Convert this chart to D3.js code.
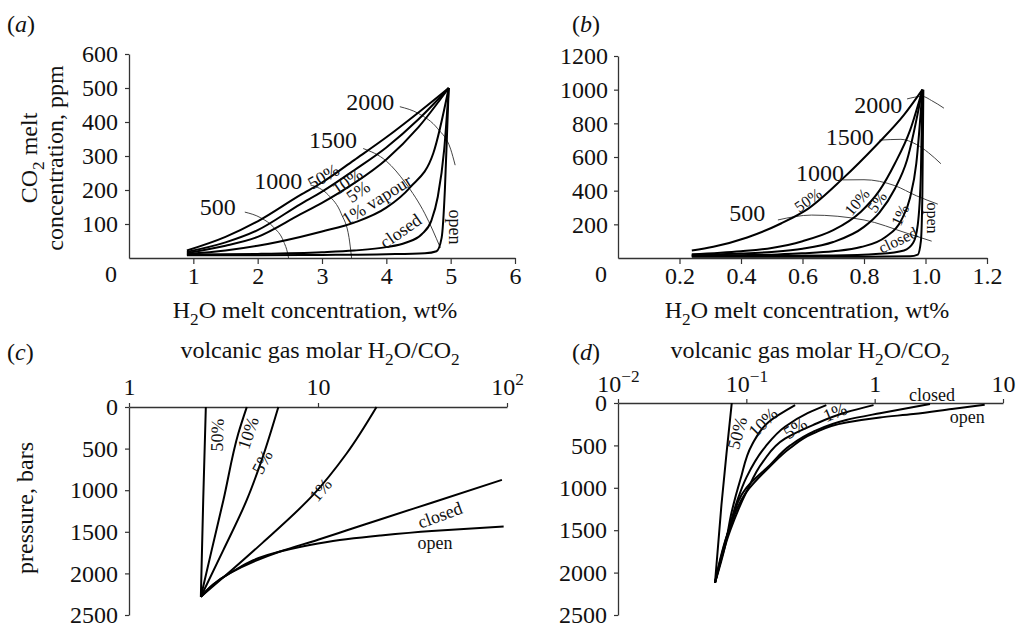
<!DOCTYPE html>
<html>
<head>
<meta charset="utf-8">
<script src="https://cdn.jsdelivr.net/npm/d3@7/dist/d3.min.js"></script>
<style>
body { margin: 0; background: #fff; }
svg text { font-family: "Liberation Serif", "Times New Roman", serif; fill: #111; }
</style>
</head>
<body>
<svg id="chart" width="1021" height="625"></svg>
<script>
// ---------- panel (a): CO2 vs H2O melt, 5 wt% start ----------
const aXTicks = [1, 2, 3, 4, 5, 6];
const aYTicks = [100, 200, 300, 400, 500, 600];
const aCurves = [
  { name: "50%", pts: [[0.9,22],[1.5,62],[2,108],[2.66,185],[3,222],[3.5,288],[4,355],[4.5,428],[4.97,500]] },
  { name: "10%", pts: [[0.9,18],[1.5,46],[2,82],[2.66,158],[3,195],[3.5,258],[4,325],[4.5,408],[4.97,500]] },
  { name: "5%", pts: [[0.9,15],[1.5,36],[2,62],[2.66,128],[3,162],[3.5,220],[4,290],[4.5,385],[4.97,500]] },
  { name: "1%", pts: [[0.9,12],[1.5,22],[2,36],[2.66,62],[3,78],[3.5,104],[4,148],[4.37,208],[4.73,308],[4.97,500]] },
  { name: "closed", pts: [[0.9,10],[2,12],[3,17],[3.5,22],[4,32],[4.3,45],[4.55,70],[4.7,110],[4.8,180],[4.9,320],[4.97,500]] },
  { name: "open", pts: [[0.9,8],[2,8],[3,9],[4,11],[4.6,14],[4.78,20],[4.86,60],[4.91,200],[4.95,400],[4.97,500]] }
];
const aIsobars = [
  { p: "500", pts: [[1.8,135],[2.05,118],[2.25,90],[2.4,50],[2.47,10],[2.48,0]] },
  { p: "1000", pts: [[2.82,215],[3.1,185],[3.3,130],[3.42,60],[3.46,0]] },
  { p: "1500", pts: [[3.64,322],[4.0,285],[4.3,220],[4.6,130],[4.84,30]] },
  { p: "2000", pts: [[4.21,445],[4.5,425],[4.8,380],[5.0,320],[5.07,273]] }
];
const aIsobarLabels = [["500",1.38,150],["1000",2.32,229],["1500",3.17,347],["2000",3.75,459]];
const aCurveLabels = [["50%",3.02,240,-30],["10%",3.39,226,-35],["5%",3.56,196,-35],
  ["1% vapour",3.85,172,-32],["closed",4.22,80,-35],["open",5.07,91,90]];

// ---------- panel (b): CO2 vs H2O melt, 1 wt% start ----------
const bXTicks = [0.2, 0.4, 0.6, 0.8, 1.0, 1.2];
const bYTicks = [200, 400, 600, 800, 1000, 1200];
const bCurves = [
  { name: "50%", pts: [[0.24,45],[0.31,67],[0.42,122],[0.53,205],[0.62,295],[0.73,470],[0.84,670],[0.93,850],[0.99,1000]] },
  { name: "10%", pts: [[0.24,22],[0.4,40],[0.5,60],[0.6,100],[0.7,165],[0.79,275],[0.85,400],[0.9,560],[0.95,760],[0.99,1000]] },
  { name: "5%", pts: [[0.24,18],[0.4,26],[0.5,36],[0.6,55],[0.7,95],[0.8,185],[0.85,270],[0.9,410],[0.94,582],[0.99,1000]] },
  { name: "1%", pts: [[0.24,15],[0.5,20],[0.6,28],[0.7,40],[0.79,65],[0.87,125],[0.92,220],[0.95,360],[0.97,560],[0.99,1000]] },
  { name: "closed", pts: [[0.24,12],[0.7,15],[0.85,25],[0.93,45],[0.96,90],[0.975,200],[0.985,500],[0.99,1000]] },
  { name: "open", pts: [[0.24,8],[0.8,8],[0.95,10],[0.975,20],[0.985,100],[0.99,400],[0.993,1000]] }
];
const bIsobars = [
  { p: "500", pts: [[0.52,226],[0.63,255],[0.8,226],[0.94,147],[1.02,100]] },
  { p: "1000", pts: [[0.73,464],[0.8,465],[0.9,430],[0.97,370],[1.04,320]] },
  { p: "1500", pts: [[0.85,700],[0.92,705],[0.97,675],[1.01,625],[1.05,560]] },
  { p: "2000", pts: [[0.94,945],[0.99,960],[1.02,935],[1.06,890]] }
];
const bIsobarLabels = [["500",0.42,267],["1000",0.657,505],["1500",0.754,719],["2000",0.846,909]];
const bCurveLabels = [["50%",0.618,345,-35],["10%",0.777,333,-50],["5%",0.842,333,-55],
  ["1%",0.917,255,-65],["closed",0.91,107,-25],["open",1.024,238,90]];

// ---------- panel (c): pressure vs gas H2O/CO2, 5 wt% ----------
const cXTicks = [1, 10, 100];
const cYTicks = [0, 500, 1000, 1500, 2000, 2500];
const cCurves = [
  { name: "50%", pts: [[2.4,2280],[2.47,1117],[2.55,0]] },
  { name: "10%", pts: [[2.4,2280],[2.74,1717],[3.16,1117],[3.79,316],[4.2,0]] },
  { name: "5%", pts: [[2.4,2280],[3.16,1717],[4.2,1117],[5.04,636],[6.17,0]] },
  { name: "1%", pts: [[2.4,2280],[3.5,1960],[5.1,1630],[9.4,1060],[14.2,556],[20.4,0]] },
  { name: "closed", pts: [[2.4,2280],[3.42,1996],[6.3,1737],[10,1595],[14.1,1485],[21.3,1352],[40,1150],[94,876]] },
  { name: "open", pts: [[2.4,2280],[3.42,1996],[6.3,1737],[10,1640],[14.1,1590],[21.3,1545],[40,1490],[96,1437]] }
];
const cCurveLabels = [["50%",2.92,336,-88],["10%",4.26,312,-72],["5%",5.06,660,-62],
  ["1%",10.3,996,-50],["closed",44.2,1297,-20],["open",41.6,1633,0]];

// ---------- panel (d): pressure vs gas H2O/CO2, 1 wt% ----------
const dXTicks = [0.01, 0.1, 1, 10];
const dYTicks = [0, 500, 1000, 1500, 2000, 2500];
const dCurves = [
  { name: "50%", pts: [[0.057,2120],[0.064,1200],[0.07,600],[0.077,0]] },
  { name: "10%", pts: [[0.057,2120],[0.068,1700],[0.077,1280],[0.09,900],[0.11,500],[0.15,220],[0.24,25]] },
  { name: "5%", pts: [[0.057,2120],[0.07,1600],[0.085,1150],[0.1,880],[0.14,520],[0.2,280],[0.3,120],[0.42,25]] },
  { name: "1%", pts: [[0.057,2120],[0.075,1500],[0.1,1050],[0.135,690],[0.2,420],[0.33,260],[0.6,110],[0.98,25]] },
  { name: "closed", pts: [[0.057,2120],[0.075,1450],[0.1,1000],[0.153,730],[0.22,500],[0.33,340],[0.6,200],[1.1,120],[2.7,12]] },
  { name: "open", pts: [[0.057,2120],[0.073,1500],[0.1,1050],[0.15,760],[0.22,530],[0.33,360],[0.6,230],[1.1,170],[2,130],[4,70],[7.2,20]] }
];
const dCurveLabels = [["50%",0.0846,354,-75],["10%",0.135,224,-45],["5%",0.24,295,-33],
  ["1%",0.49,106,-22],["closed",2.8,-94,0],["open",5.26,165,0]];

const FS = 24;
const svg = d3.select("#chart");

function styleAxis(g) {
  g.attr("font-family", null);
  g.select(".domain").attr("stroke", "#333").attr("stroke-width", 1.3);
  g.selectAll(".tick line").attr("stroke", "#333").attr("stroke-width", 1.2);
  g.selectAll(".tick text").attr("font-size", FS).attr("fill", "#111");
}

// x-monotone curves for (a),(b); pressure-monotone curves for (c),(d)
function drawCurves(x, y, curves, width, color, byY) {
  const line = d3.line().x(d => x(d[0])).y(d => y(d[1]))
    .curve(byY ? d3.curveMonotoneY : d3.curveMonotoneX);
  svg.append("g").selectAll("path").data(curves).enter().append("path")
    .attr("d", d => line(byY ? d.pts.slice().sort((p, q) => p[1] - q[1]) : d.pts))
    .attr("fill", "none").attr("stroke", color).attr("stroke-width", width)
    .attr("stroke-linejoin", "round");
}

function drawLabels(x, y, labels, size) {
  svg.append("g").selectAll("text").data(labels).enter().append("text")
    .attr("transform", d => `translate(${x(d[1])},${y(d[2])}) rotate(${d[3] || 0})`)
    .attr("text-anchor", "middle").attr("dy", "0.35em")
    .attr("font-size", size).text(d => d[0]);
}

// text with a subscript or superscript part
function richText(sel, parts, size) {
  parts.forEach(p => {
    const t = sel.append("tspan").text(p.t);
    if (p.sub) t.attr("font-size", size * 0.72).attr("dy", size * 0.28);
    if (p.back) t.attr("dy", -size * 0.28);
    if (p.sup) t.attr("font-size", size * 0.72).attr("dy", -size * 0.42);
  });
}

const h2oTitle = [{ t: "H" }, { t: "2", sub: true }, { t: "O melt concentration, wt%", back: true }];
const gasTitle = [{ t: "volcanic gas molar H" }, { t: "2", sub: true }, { t: "O/CO", back: true }, { t: "2", sub: true }];

function panelLetter(px, py, letter) {
  const t = svg.append("text").attr("x", px).attr("y", py).attr("font-size", FS);
  t.append("tspan").text("(");
  t.append("tspan").attr("font-style", "italic").text(letter);
  t.append("tspan").text(")");
}

// ===== panel (a) =====
{
  const x = d3.scaleLinear().domain([0, 6]).range([129, 515]);
  const y = d3.scaleLinear().domain([0, 600]).range([258, 54]);
  const gx = svg.append("g").attr("transform", "translate(0,258)")
    .call(d3.axisBottom(x).tickValues(aXTicks).tickFormat(d3.format("d")).tickSize(6).tickPadding(3).tickSizeOuter(0));
  styleAxis(gx);
  const gy = svg.append("g").attr("transform", "translate(129,0)")
    .call(d3.axisLeft(y).tickValues(aYTicks).tickFormat(d3.format("d")).tickSize(4).tickPadding(7).tickSizeOuter(0));
  styleAxis(gy);
  svg.append("text").attr("x", 117).attr("y", 282).attr("text-anchor", "end").attr("font-size", FS).text("0");

  drawCurves(x, y, aIsobars, 1, "#444", false);
  drawCurves(x, y, aCurves, 2, "#000", false);
  drawLabels(x, y, aIsobarLabels, FS);
  drawLabels(x, y, aCurveLabels, 18);

  richText(svg.append("text").attr("x", 315).attr("y", 318).attr("text-anchor", "middle").attr("font-size", FS), h2oTitle, FS);
  richText(svg.append("text").attr("transform", "translate(37,158) rotate(-90)").attr("text-anchor", "middle").attr("font-size", FS),
    [{ t: "CO" }, { t: "2", sub: true }, { t: " melt", back: true }], FS);
  svg.append("text").attr("transform", "translate(63,158) rotate(-90)").attr("text-anchor", "middle")
    .attr("font-size", FS).text("concentration, ppm");
  panelLetter(7, 32, "a");
}

// ===== panel (b) =====
{
  const x = d3.scaleLinear().domain([0, 1.2]).range([618, 987]);
  const y = d3.scaleLinear().domain([0, 1200]).range([258, 56]);
  const gx = svg.append("g").attr("transform", "translate(0,258)")
    .call(d3.axisBottom(x).tickValues(bXTicks).tickFormat(d3.format(".1f")).tickSize(6).tickPadding(3).tickSizeOuter(0));
  styleAxis(gx);
  const gy = svg.append("g").attr("transform", "translate(618,0)")
    .call(d3.axisLeft(y).tickValues(bYTicks).tickFormat(d3.format("d")).tickSize(4).tickPadding(6).tickSizeOuter(0));
  styleAxis(gy);
  svg.append("text").attr("x", 607).attr("y", 282).attr("text-anchor", "end").attr("font-size", FS).text("0");

  drawCurves(x, y, bIsobars, 1, "#444", false);
  drawCurves(x, y, bCurves, 2, "#000", false);
  drawLabels(x, y, bIsobarLabels, FS);
  drawLabels(x, y, bCurveLabels, 16);

  richText(svg.append("text").attr("x", 807).attr("y", 318).attr("text-anchor", "middle").attr("font-size", FS), h2oTitle, FS);
  panelLetter(572, 32, "b");
}

// ===== panel (c) =====
{
  const x = d3.scaleLog().domain([1, 100]).range([129, 507]);
  const y = d3.scaleLinear().domain([0, 2500]).range([407, 615]);
  const gx = svg.append("g").attr("transform", "translate(0,407)")
    .call(d3.axisTop(x).tickValues(cXTicks).tickFormat(() => "").tickSize(4).tickSizeOuter(0));
  styleAxis(gx);
  gx.selectAll(".tick text").each(function(d) {
    const t = d3.select(this).attr("y", -12).attr("dy", 0);
    if (d === 100) richText(t, [{ t: "10" }, { t: "2", sup: true }], FS);
    else t.text(d);
  });
  const gy = svg.append("g").attr("transform", "translate(129,0)")
    .call(d3.axisLeft(y).tickValues(cYTicks).tickFormat(d3.format("d")).tickSize(4).tickPadding(7).tickSizeOuter(0));
  styleAxis(gy);

  drawCurves(x, y, cCurves, 2, "#000", true);
  drawLabels(x, y, cCurveLabels, 18);

  richText(svg.append("text").attr("x", 320).attr("y", 358).attr("text-anchor", "middle").attr("font-size", FS), gasTitle, FS);
  svg.append("text").attr("transform", "translate(33,508) rotate(-90)").attr("text-anchor", "middle")
    .attr("font-size", FS).text("pressure, bars");
  panelLetter(7, 360, "c");
}

// ===== panel (d) =====
{
  const x = d3.scaleLog().domain([0.01, 10]).range([618, 1003]);
  const y = d3.scaleLinear().domain([0, 2500]).range([403, 615]);
  const gx = svg.append("g").attr("transform", "translate(0,403)")
    .call(d3.axisTop(x).tickValues(dXTicks).tickFormat(() => "").tickSize(4).tickSizeOuter(0));
  styleAxis(gx);
  const expo = { 0.01: "\u22122", 0.1: "\u22121" };
  gx.selectAll(".tick text").each(function(d) {
    const t = d3.select(this).attr("y", -11).attr("dy", 0);
    if (expo[d]) richText(t, [{ t: "10" }, { t: expo[d], sup: true }], FS);
    else t.text(d);
  });
  const gy = svg.append("g").attr("transform", "translate(618,0)")
    .call(d3.axisLeft(y).tickValues(dYTicks).tickFormat(d3.format("d")).tickSize(4).tickPadding(7).tickSizeOuter(0));
  styleAxis(gy);

  drawCurves(x, y, dCurves, 2, "#000", true);
  drawLabels(x, y, dCurveLabels, 18);

  richText(svg.append("text").attr("x", 810).attr("y", 358).attr("text-anchor", "middle").attr("font-size", FS), gasTitle, FS);
  panelLetter(572, 360, "d");
}
</script>
</body>
</html>
